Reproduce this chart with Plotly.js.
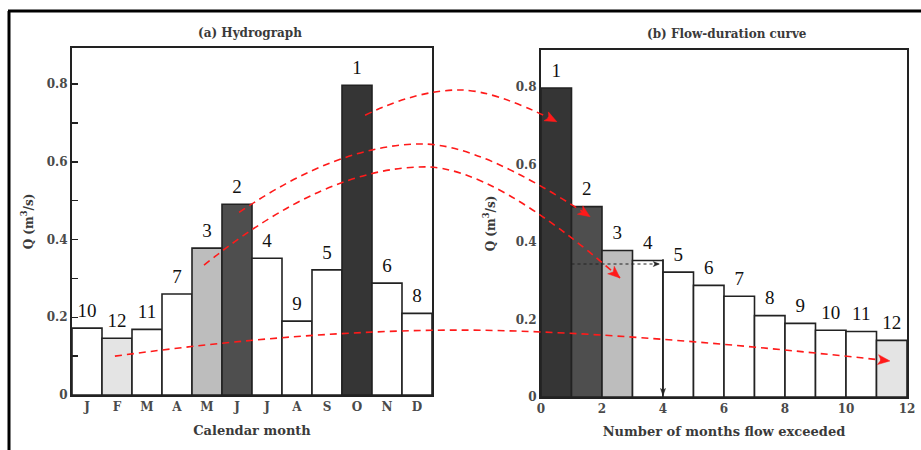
<!DOCTYPE html>
<html>
<head>
<meta charset="utf-8">
<script src="https://cdn.plot.ly/plotly-3.0.1.min.js"></script>
<style>html,body{margin:0;padding:0;background:#fff;}#chart{width:921px;height:450px;}</style>
</head>
<body>
<div id="chart"></div>
<script>
// ---- data ----
const months = ['J','F','M','A','M','J','J','A','S','O','N','D'];
const monthlyQ = [0.172, 0.146, 0.169, 0.260, 0.378, 0.491, 0.352, 0.190, 0.322, 0.797, 0.288, 0.210];
const monthRank = [10, 12, 11, 7, 3, 2, 4, 9, 5, 1, 6, 8];
const yTickVals = [0, 0.2, 0.4, 0.6, 0.8];
const yTickText = ['0', '0.2', '0.4', '0.6', '0.8'];
const durTickVals = [0, 2, 4, 6, 8, 10, 12];
// curved red arrows: start (hydrograph units), peak (hydrograph units), end (duration-curve units)
const arrowFromX = [10.27, 6.07, 4.90, 1.93];
const arrowFromY = [0.720, 0.470, 0.334, 0.100];
const arrowPeakX = [13.43, 12.17, 12.27, 13.43];
const arrowPeakY = [0.785, 0.646, 0.587, 0.167];
const arrowToX = [0.52, 1.61, 2.59, 11.44];
const arrowToY = [0.710, 0.465, 0.307, 0.093];
// exceedance reading on duration curve
const readQ = 0.343;
const readX = [1, 3.88];
const readMonths = 4;
const readTop = 0.356;

// ---- layout geometry ----
const W = 921, H = 450;
const ax1 = {xd: [72/W, 432/W], yd: [1-395/H, 1-48/H], xr: [0.5, 12.5], yr: [0, 0.893]};
const ax2 = {xd: [541/W, 907/W], yd: [1-397/H, 1-50/H], xr: [0, 12], yr: [0, 0.895]};
function px(a, v){ return a.xd[0] + (v - a.xr[0])/(a.xr[1]-a.xr[0])*(a.xd[1]-a.xd[0]); }
function py(a, v){ return a.yd[0] + (v - a.yr[0])/(a.yr[1]-a.yr[0])*(a.yd[1]-a.yd[0]); }

const rankColor = r => ({1:'#353535', 2:'#4e4e4e', 3:'#bdbdbd', 12:'#e4e4e4'}[r] || '#ffffff');

// duration curve from sorted data
const order = monthlyQ.map((q,i)=>i).sort((a,b)=>monthlyQ[b]-monthlyQ[a]);
const sortedQ = order.map(i=>monthlyQ[i]);
const sortedRank = order.map(i=>monthRank[i]);
const rankX = sortedQ.map((q,i)=>i+0.5);

const monthX = months.map((m,i)=>i+1);
const labelFont = {family:'Liberation Serif', size:19, color:'#111'};
const ghost = {size:9, opacity:0, color:'#fff'};

const traces = [
  {type:'bar', x: monthX, y: monthlyQ, width: 1, xaxis:'x', yaxis:'y',
   marker:{color: monthRank.map(rankColor), line:{color:'#222', width:1.6}}, hoverinfo:'skip', showlegend:false},
  {type:'scatter', mode:'markers+text', marker: ghost, x: monthX, y: monthlyQ, text: monthRank.map(String),
   textposition:'top center', textfont: labelFont, xaxis:'x', yaxis:'y', cliponaxis:false, showlegend:false, hoverinfo:'skip'},
  {type:'bar', x: rankX, y: sortedQ, width: 1, xaxis:'x2', yaxis:'y2',
   marker:{color: sortedRank.map(rankColor), line:{color:'#222', width:1.6}}, hoverinfo:'skip', showlegend:false},
  {type:'scatter', mode:'markers+text', marker: ghost, x: rankX, y: sortedQ, text: sortedRank.map(String),
   textposition:'top center', textfont: labelFont, xaxis:'x2', yaxis:'y2', cliponaxis:false, showlegend:false, hoverinfo:'skip'}
];

const tickFont = {family:'DejaVu Serif', size:12, color:'#4a4a4a', weight:'bold'};
const titleFont = {family:'DejaVu Serif', size:13, color:'#3a3a3a', weight:'bold'};
const yTitleFont = {family:'DejaVu Serif', size:12, color:'#3a3a3a', weight:'bold'};
const axisCommon = {showgrid:false, zeroline:false, showline:true, mirror:true, linecolor:'#222', linewidth:2, fixedrange:true, tickfont:tickFont, automargin:false};

const shapes = [
  {type:'line', xref:'paper', yref:'paper', x0:8/W, x1:1, y0:1-11/H, y1:1-11/H, line:{color:'#000', width:3}},
  {type:'line', xref:'paper', yref:'paper', x0:9/W, x1:9/W, y0:1-11/H, y1:0, line:{color:'#000', width:3}},
  {type:'line', xref:'x2', yref:'y2', x0:readX[0], x1:readX[1], y0:readQ, y1:readQ, line:{color:'#222', width:1.2, dash:'dot'}},
  {type:'line', xref:'x2', yref:'y2', x0:readMonths, x1:readMonths, y0:readTop, y1:0.012, line:{color:'#222', width:1.2}}
];
const annotations = [];

// filled arrowhead, tip given in paper coords, direction in screen pixels (y down)
function arrowHead(tx, ty, dx, dy, len, half, color){
  const L = Math.hypot(dx,dy); dx/=L; dy/=L;
  const tpx = tx*W, tpy = (1-ty)*H;
  const bx = tpx - dx*len, by = tpy - dy*len;
  const nx = bx + dx*len*0.25, ny = by + dy*len*0.25; // notch
  const p1 = [bx - dy*half, by + dx*half], p2 = [bx + dy*half, by - dx*half];
  const toP = (x,y)=>`${x/W},${1-y/H}`;
  shapes.push({type:'path', xref:'paper', yref:'paper', layer:'above',
    path:`M ${toP(tpx,tpy)} L ${toP(p1[0],p1[1])} L ${toP(nx,ny)} L ${toP(p2[0],p2[1])} Z`,
    fillcolor: color, line:{color: color, width:0.5}});
}

function txt(t, x, y, size, extra){
  annotations.push(Object.assign({text:t, xref:'paper', yref:'paper', x:x/W, y:1-y/H, showarrow:false,
    xanchor:'center', yanchor:'middle', font:{family:'DejaVu Serif', size:size, color:'#3a3a3a', weight:'bold'}}, extra||{}));
}
txt('(a) Hydrograph', 250, 33, 12);
txt('(b) Flow-duration curve', 727, 34, 12);

// red curved arrows
for (let k=0; k<arrowFromX.length; k++){
  const x0 = px(ax1, arrowFromX[k]), y0 = py(ax1, arrowFromY[k]);
  const xp = px(ax1, arrowPeakX[k]), yp = py(ax1, arrowPeakY[k]);
  const x3 = px(ax2, arrowToX[k]), y3 = py(ax2, arrowToY[k]);
  const cxA = x0 + 0.55*(xp-x0), cxB = xp + 0.35*(x3-xp);
  shapes.push({type:'path', xref:'paper', yref:'paper', layer:'above',
    path:`M ${x0},${y0} Q ${cxA},${yp} ${xp},${yp} Q ${cxB},${yp} ${x3},${y3}`,
    line:{color:'#ff1a1a', width:1.6, dash:'7px,5px'}});
  arrowHead(x3, y3, (x3-cxB)*W, -(y3-yp)*H, 12, 5, '#ff1a1a');
}
// black reading arrowheads
arrowHead(px(ax2, readX[1]), py(ax2, readQ), 1, 0, 6, 2.5, '#222');
arrowHead(px(ax2, readMonths), py(ax2, 0.004), 0, 1, 7, 2.5, '#222');

const layout = {
  width: W, height: H, margin:{l:0, r:0, t:0, b:0},
  paper_bgcolor:'#ffffff', plot_bgcolor:'#ffffff', showlegend:false, bargap:0,
  xaxis: Object.assign({}, axisCommon, {domain: ax1.xd, range: ax1.xr, anchor:'y', tickmode:'array',
    tickvals: monthX, ticktext: months, ticks:'',
    title:{text:'Calendar month', font:titleFont, standoff:12}}),
  yaxis: Object.assign({}, axisCommon, {domain: ax1.yd, range: ax1.yr, anchor:'x', tickmode:'array',
    tickvals: yTickVals, ticktext: yTickText, ticks:'inside', ticklen:6, tickcolor:'#222', tickwidth:1.5,
    minor:{dtick:0.1, tick0:0, ticks:'inside', ticklen:6, tickcolor:'#222', tickwidth:1.5, showgrid:false},
    title:{text:'Q (m<sup>3</sup>/s)', font:yTitleFont, standoff:11}}),
  xaxis2: Object.assign({}, axisCommon, {domain: ax2.xd, range: ax2.xr, anchor:'y2', tickmode:'array',
    tickvals: durTickVals, ticktext: durTickVals.map(String), ticks:'',
    title:{text:'Number of months flow exceeded', font:titleFont, standoff:11}}),
  yaxis2: Object.assign({}, axisCommon, {domain: ax2.yd, range: ax2.yr, anchor:'x2', tickmode:'array',
    tickvals: yTickVals, ticktext: yTickText, ticks:'',
    title:{text:'Q (m<sup>3</sup>/s)', font:yTitleFont, standoff:18}}),
  shapes: shapes,
  annotations: annotations
};

Plotly.newPlot('chart', traces, layout, {displayModeBar:false, staticPlot:true});
</script>
</body>
</html>
